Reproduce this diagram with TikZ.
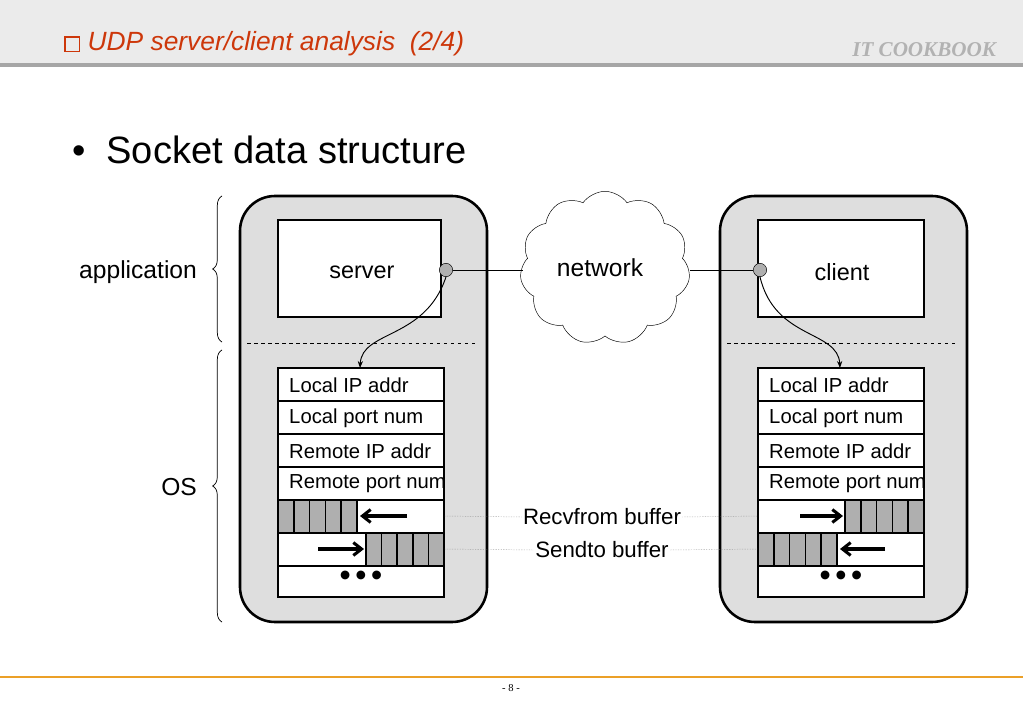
\documentclass[tikz,border=0pt]{standalone}
\usepackage{fontspec}
\setmainfont{Liberation Sans}
\newfontfamily\serifit{Liberation Serif}
\usetikzlibrary{shapes.symbols,decorations.pathreplacing,arrows.meta}
\definecolor{hdr}{RGB}{235,235,235}
\definecolor{ttl}{RGB}{205,55,10}
\definecolor{org}{RGB}{235,160,40}
\definecolor{boxg}{RGB}{222,222,222}
\definecolor{cellg}{RGB}{175,175,175}
\newcommand{\mybox}{{\setlength{\fboxsep}{0pt}\setlength{\fboxrule}{1.4pt}\fbox{\phantom{\rule{11pt}{11pt}}}}}
\begin{document}
\begin{tikzpicture}[x=0.03cm,y=-0.03cm,
  lbl/.style={font=\fontsize{17.3}{19}\selectfont,anchor=west,inner sep=0},
  cell/.style={draw,line width=1.4pt,fill=cellg},
  row/.style={draw,line width=1.4pt,fill=white},
  outer/.style={draw,line width=2.2pt,fill=boxg,rounded corners=1.05cm},
  dot/.style={circle,draw,fill=cellg,minimum size=0.4cm,inner sep=0},
  fat/.style={line width=2.6pt,-{Straight Barb[length=7pt,width=11pt]}}]
\useasboundingbox (0,0) rectangle (1023,708);
% header
\fill[hdr] (0,0) rectangle (1023,63);
\fill[gray!70] (0,63) rectangle (1023,67);
\node[anchor=west,text=ttl,font=\fontsize{22.5}{24}\selectfont\itshape] (title) at (60,44) {\mybox\ UDP server/client analysis\ \ (2/4)};
\node[anchor=east,text=gray!60,font=\fontsize{18}{20}\selectfont\serifit\bfseries\itshape] (brand) at (1000,50) {IT COOKBOOK};
\node[anchor=west,font=\fontsize{32.5}{36}\selectfont] (head) at (68,150) {•\ \ Socket data structure};
% footer
\draw[org,line width=1pt] (0,677) -- (1023,677);
\node[font=\fontsize{9}{10}\selectfont\serifit] (pg) at (511,688) {- 8 -};
% braces
\draw[line width=0.6pt,decorate,decoration={brace,amplitude=8pt}] (222,342) -- (222,196);
\draw[line width=0.6pt,decorate,decoration={brace,amplitude=8pt}] (222,622) -- (222,350);
\node[font=\fontsize{21}{23}\selectfont,anchor=east] (app) at (201,272) {application};
\node[font=\fontsize{21}{23}\selectfont,anchor=east] (os) at (201,487) {OS};
% cloud
\node[cloud,cloud puffs=11,cloud puff arc=110,draw,fill=white,minimum width=5.1cm,minimum height=4.6cm,aspect=1.1] (net) at (605,268) {};
\node[font=\fontsize{21}{23}\selectfont] (nett) at (600,268) {network};
% two hosts
\foreach \X/\name/\R in {240/server/0,720/client/1}{
  \begin{scope}[xshift=\X*0.03cm]
  \draw[outer] (0,196) rectangle (247,622);
  \draw[row] (38,220) rectangle (201+\R*3,317);
  \node[font=\fontsize{20}{22}\selectfont] at (122,272) {\name};
  \draw[dashed,line width=0.5pt] (7,343) -- (237,343);
  \foreach \i/\t in {0/Local IP addr,1/Local port num,2/Remote IP addr,3/Remote port num}{
    \draw[row] (38,368+33*\i) rectangle (204,401+33*\i);
    \node[lbl] at (49,385+33*\i) {\t};}
  \draw[row] (38,500) rectangle (204,533);
  \draw[row] (38,533) rectangle (204,566);
  \draw[row] (38,566) rectangle (204,597);
  \node[font=\fontsize{26}{26}\selectfont\bfseries] at (121,578) {•\,•\,•};
  \end{scope}}
% server buffers
\foreach \i in {0,...,4}{\draw[cell] (278+15.8*\i,500) rectangle (278+15.8*\i+15.8,533);}
\draw[fat] (407,516) -- (360,516);
\foreach \i in {0,...,4}{\draw[cell] (366+15.6*\i,533) rectangle (366+15.6*\i+15.6,566);}
\draw[fat] (318,549) -- (364,549);
% client buffers
\foreach \i in {0,...,4}{\draw[cell] (845+15.8*\i,500) rectangle (845+15.8*\i+15.8,533);}
\draw[fat] (800,516) -- (843,516);
\foreach \i in {0,...,4}{\draw[cell] (758+15.8*\i,533) rectangle (758+15.8*\i+15.8,566);}
\draw[fat] (885,549) -- (840,549);
% labels and dotted leaders
\node[font=\fontsize{19}{21}\selectfont,inner sep=1pt] (rb) at (602,517) {Recvfrom buffer};
\node[font=\fontsize{19}{21}\selectfont,inner sep=1pt] (sb) at (602,550) {Sendto buffer};
\coordinate (sl1) at (444,516); \coordinate (sr1) at (758,516);
\coordinate (sl2) at (444,549); \coordinate (sr2) at (758,549);
\draw[densely dotted,gray,line width=0.4pt] (sl1) -- (rb.west) (rb.east) -- (sr1);
\draw[densely dotted,gray,line width=0.4pt] (sl2) -- (sb.west) (sb.east) -- (sr2);
% sockets
\node[dot] (ds) at (446,270) {};
\node[dot] (dc) at (760,270) {};
\coordinate (cs) at (523,270); \coordinate (cc) at (690,270);
\draw[line width=0.6pt] (ds) -- (cs);
\draw[line width=0.6pt] (cc) -- (dc);
\coordinate (ts) at (360,368); \coordinate (tc) at (840,368);
\draw[line width=0.8pt,-{Stealth[length=6pt]}] (ds.south) .. controls (425,340) and (362,330) .. (ts);
\draw[line width=0.8pt,-{Stealth[length=6pt]}] (dc.south) .. controls (775,340) and (838,330) .. (tc);
\end{tikzpicture}
\end{document}
